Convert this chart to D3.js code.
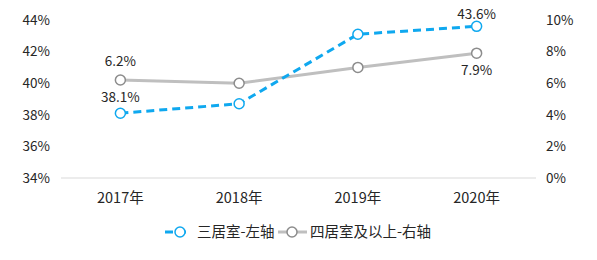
<!DOCTYPE html>
<html>
<head>
<meta charset="utf-8">
<script src="https://cdn.jsdelivr.net/npm/d3@7"></script>
<style>
  body { margin: 0; background: #fff; }
  text { font-family: "Noto Sans CJK SC", "Liberation Sans", sans-serif; fill: #262626; }
</style>
</head>
<body>
<svg id="chart" width="597" height="260"></svg>
<script>
const years = ['2017年', '2018年', '2019年', '2020年'];
const threeRoom = [38.1, 38.7, 43.1, 43.6];   // left axis
const fourRoom = [6.2, 6.0, 7.0, 7.9];        // right axis
const leftTicks = [34, 36, 38, 40, 42, 44];
const rightTicks = [0, 2, 4, 6, 8, 10];
const seriesNames = ['三居室-左轴', '四居室及以上-右轴'];

const svg = d3.select('#chart');
const plotL = 61, plotR = 536, plotT = 20, plotB = 178;

const x = d3.scaleBand().domain(years).range([plotL, plotR]);
const yL = d3.scaleLinear().domain([34, 44]).range([plotB, plotT]);
const yR = d3.scaleLinear().domain([0, 10]).range([plotB, plotT]);

const blue = '#0fa8ef', grayLine = '#bfbfbf', grayMark = '#8c8c8c';

// baseline
svg.append('line')
    .attr('x1', plotL).attr('x2', plotR)
    .attr('y1', plotB).attr('y2', plotB)
    .attr('stroke', '#d9d9d9').attr('stroke-width', 1);

// left axis labels
svg.append('g').selectAll('text')
    .data(leftTicks).enter().append('text')
    .attr('x', 50).attr('y', d => yL(d)).attr('dy', '0.35em')
    .attr('text-anchor', 'end').attr('font-size', 13.5)
    .text(d => d + '%');

// right axis labels
svg.append('g').selectAll('text')
    .data(rightTicks).enter().append('text')
    .attr('x', 546).attr('y', d => yR(d)).attr('dy', '0.35em')
    .attr('font-size', 13.5)
    .text(d => d + '%');

// category labels
svg.append('g').selectAll('text')
    .data(years).enter().append('text')
    .attr('x', d => x(d) + x.bandwidth() / 2).attr('y', 198).attr('dy', '0.35em')
    .attr('text-anchor', 'middle').attr('font-size', 14.5)
    .text(d => d);

const cx = (d, i) => x(years[i]) + x.bandwidth() / 2;

// gray series
svg.append('path')
    .datum(fourRoom)
    .attr('fill', 'none').attr('stroke', grayLine).attr('stroke-width', 3)
    .attr('d', d3.line().x(cx).y(d => yR(d)));
svg.append('g').selectAll('circle')
    .data(fourRoom).enter().append('circle')
    .attr('cx', cx).attr('cy', d => yR(d)).attr('r', 5)
    .attr('fill', '#fff').attr('stroke', grayMark).attr('stroke-width', 1.5);

// blue series
svg.append('path')
    .datum(threeRoom)
    .attr('fill', 'none').attr('stroke', blue).attr('stroke-width', 3)
    .attr('stroke-dasharray', '8,5')
    .attr('d', d3.line().x(cx).y(d => yL(d)));
svg.append('g').selectAll('circle')
    .data(threeRoom).enter().append('circle')
    .attr('cx', cx).attr('cy', d => yL(d)).attr('r', 5)
    .attr('fill', '#fff').attr('stroke', blue).attr('stroke-width', 1.5);

// data labels
const labels = [
    { i: 0, v: threeRoom[0], y: yL(threeRoom[0]), dy: -16 },
    { i: 3, v: threeRoom[3], y: yL(threeRoom[3]), dy: -12 },
    { i: 0, v: fourRoom[0], y: yR(fourRoom[0]), dy: -19 },
    { i: 3, v: fourRoom[3], y: yR(fourRoom[3]), dy: 17 }
];
svg.append('g').selectAll('text')
    .data(labels).enter().append('text')
    .attr('x', d => cx(null, d.i)).attr('y', d => d.y + d.dy).attr('dy', '0.35em')
    .attr('text-anchor', 'middle').attr('font-size', 13.5)
    .text(d => d.v.toFixed(1) + '%');

// legend
const lg = svg.append('g');
lg.append('line').attr('x1', 165).attr('x2', 187).attr('y1', 232).attr('y2', 232)
    .attr('stroke', blue).attr('stroke-width', 3).attr('stroke-dasharray', '8,5');
lg.append('circle').attr('cx', 180).attr('cy', 232).attr('r', 5)
    .attr('fill', '#fff').attr('stroke', blue).attr('stroke-width', 1.5);
lg.append('text').attr('x', 197).attr('y', 232).attr('dy', '0.35em')
    .attr('font-size', 14.5).text(seriesNames[0]);
lg.append('line').attr('x1', 278).attr('x2', 307).attr('y1', 232).attr('y2', 232)
    .attr('stroke', grayLine).attr('stroke-width', 3);
lg.append('circle').attr('cx', 292).attr('cy', 232).attr('r', 5)
    .attr('fill', '#fff').attr('stroke', grayMark).attr('stroke-width', 1.5);
lg.append('text').attr('x', 310).attr('y', 232).attr('dy', '0.35em')
    .attr('font-size', 14.5).text(seriesNames[1]);
</script>
</body>
</html>
